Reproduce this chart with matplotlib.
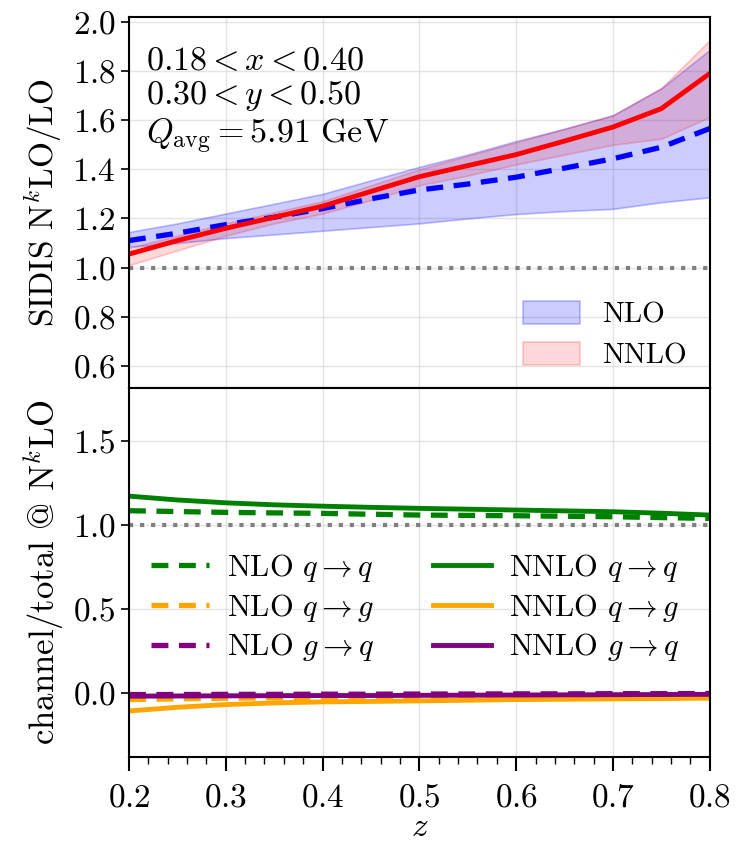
import matplotlib
matplotlib.use("Agg")
import matplotlib.pyplot as plt
import numpy as np

plt.rcParams['font.family'] = 'serif'
plt.rcParams['font.serif'] = ['cmr10', 'DejaVu Serif']
plt.rcParams['mathtext.fontset'] = 'cm'
plt.rcParams['axes.formatter.use_mathtext'] = True
plt.rcParams['font.size'] = 24

# z bins
z = [0.20, 0.25, 0.30, 0.35, 0.40, 0.45, 0.50, 0.55, 0.60, 0.65, 0.70, 0.75, 0.80]

# NLO / LO ratio with scale band
nlo = [1.11, 1.14, 1.175, 1.205, 1.24, 1.28, 1.316, 1.34, 1.368, 1.405, 1.443, 1.49, 1.566]
nlo_lo = [1.085, 1.10, 1.12, 1.135, 1.15, 1.165, 1.18, 1.20, 1.218, 1.23, 1.239, 1.266, 1.286]
nlo_hi = [1.145, 1.18, 1.22, 1.26, 1.30, 1.355, 1.41, 1.46, 1.515, 1.565, 1.62, 1.73, 1.886]

# NNLO / LO ratio with scale band
nnlo = [1.055, 1.11, 1.16, 1.205, 1.25, 1.31, 1.37, 1.415, 1.46, 1.515, 1.572, 1.647, 1.79]
nnlo_lo = [1.01, 1.07, 1.13, 1.18, 1.22, 1.275, 1.335, 1.375, 1.42, 1.46, 1.50, 1.525, 1.613]
nnlo_hi = [1.08, 1.13, 1.18, 1.225, 1.27, 1.335, 1.40, 1.455, 1.51, 1.565, 1.62, 1.73, 1.926]

# channel fractions
nlo_qq = [1.083, 1.078, 1.073, 1.07, 1.067, 1.062, 1.057, 1.055, 1.053, 1.05, 1.047, 1.042, 1.037]
nlo_qg = [-0.042, -0.038, -0.034, -0.031, -0.029, -0.027, -0.025, -0.023, -0.021, -0.019, -0.018, -0.016, -0.015]
nlo_gq = [-0.012, -0.012, -0.011, -0.011, -0.010, -0.010, -0.009, -0.009, -0.008, -0.008, -0.007, -0.007, -0.006]
nnlo_qq = [1.17, 1.147, 1.13, 1.118, 1.11, 1.103, 1.097, 1.092, 1.087, 1.082, 1.077, 1.068, 1.057]
nnlo_qg = [-0.11, -0.088, -0.072, -0.062, -0.056, -0.053, -0.05, -0.046, -0.042, -0.04, -0.038, -0.036, -0.034]
nnlo_gq = [-0.022, -0.021, -0.020, -0.019, -0.018, -0.018, -0.017, -0.016, -0.015, -0.014, -0.013, -0.012, -0.011]

fig = plt.figure(figsize=(7.37, 8.49), dpi=100)
ax1 = fig.add_axes([0.175, 0.543, 0.788, 0.437])
ax2 = fig.add_axes([0.175, 0.108, 0.788, 0.435], sharex=ax1)

# top panel: K factors
b1 = ax1.fill_between(z, nlo_lo, nlo_hi, facecolor=(0.0, 0.0, 1.0, 0.2), edgecolor=(0.0, 0.0, 1.0, 0.25), lw=1.2, label='NLO')
b2 = ax1.fill_between(z, nnlo_lo, nnlo_hi, facecolor=(1.0, 0.0, 0.0, 0.15), edgecolor=(1.0, 0.0, 0.0, 0.2), lw=1.2, label='NNLO')
ax1.plot(z, nlo, color='blue', ls='--', lw=3.8, dashes=(3.2, 2.0))
ax1.plot(z, nnlo, color='red', ls='-', lw=3.5)
ax1.axhline(1.0, color='gray', ls=':', lw=3)
ax1.set_ylim(0.51, 2.02)
ax1.set_yticks([0.6, 0.8, 1.0, 1.2, 1.4, 1.6, 1.8, 2.0])
ax1.set_ylabel(r'SIDIS N$^k$LO/LO', fontsize=24, labelpad=6)
ax1.text(0.03, 0.918, r'$0.18 < x < 0.40$' '\n' r'$0.30 < y < 0.50$' '\n' r'$Q_{\rm avg} = 5.91\ {\rm GeV}$',
         transform=ax1.transAxes, va='top', ha='left', linespacing=1.12, fontsize=24.5)
ax1.legend(handles=[b1, b2], loc='lower right', bbox_to_anchor=(0.98, 0.018), frameon=False, fontsize=21,
           handlelength=1.95, handleheight=0.85, handletextpad=0.75, borderaxespad=0.0, labelspacing=0.45)
ax1.tick_params(axis='x', bottom=False, labelbottom=False)

# bottom panel: channel decomposition
ax2.plot(z, nlo_qq, color='green', ls='--', lw=3.8, dashes=(3.2, 2.0), label=r'NLO $q\to q$')
ax2.plot(z, nlo_qg, color='orange', ls='--', lw=3.8, dashes=(3.2, 2.0), label=r'NLO $q\to g$')
ax2.plot(z, nlo_gq, color='purple', ls='--', lw=3.8, dashes=(3.2, 2.0), label=r'NLO $g\to q$')
ax2.plot(z, nnlo_qq, color='green', ls='-', lw=3.5, label=r'NNLO $q\to q$')
ax2.plot(z, nnlo_qg, color='orange', ls='-', lw=3.5, label=r'NNLO $q\to g$')
ax2.plot(z, nnlo_gq, color='purple', ls='-', lw=3.5, label=r'NNLO $g\to q$')
ax2.axhline(1.0, color='gray', ls=':', lw=3)
ax2.set_ylim(-0.386, 1.814)
ax2.set_yticks([0.0, 0.5, 1.0, 1.5])
ax2.set_ylabel(r'channel/total @ N$^k$LO', fontsize=25, labelpad=4)
ax2.set_xlim(0.2, 0.8)
ax2.set_xticks([0.2, 0.3, 0.4, 0.5, 0.6, 0.7, 0.8])
ax2.set_xticks(np.arange(0.2, 0.801, 0.02), minor=True)
ax2.set_xlabel(r'$z$', labelpad=0)
ax2.legend(loc='center left', bbox_to_anchor=(-0.01, 0.405), ncol=2, frameon=False, fontsize=22,
           handlelength=1.9, columnspacing=1.9, labelspacing=0.25, handletextpad=0.6)

for ax in (ax1, ax2):
    ax.grid(True, color='lightgray', alpha=0.6, lw=1)
    ax.set_axisbelow(True)
    for s in ax.spines.values():
        s.set_linewidth(1.5)
    ax.tick_params(axis='y', direction='out', length=6, width=1.2, labelsize=24)
ax2.tick_params(axis='x', which='major', direction='out', length=10, width=1.5, labelsize=24, pad=9)
ax2.tick_params(axis='x', which='minor', direction='out', length=5, width=1.0)
ax2.tick_params(axis='y', which='minor', left=False)

fig.savefig('out.png', dpi=100)
